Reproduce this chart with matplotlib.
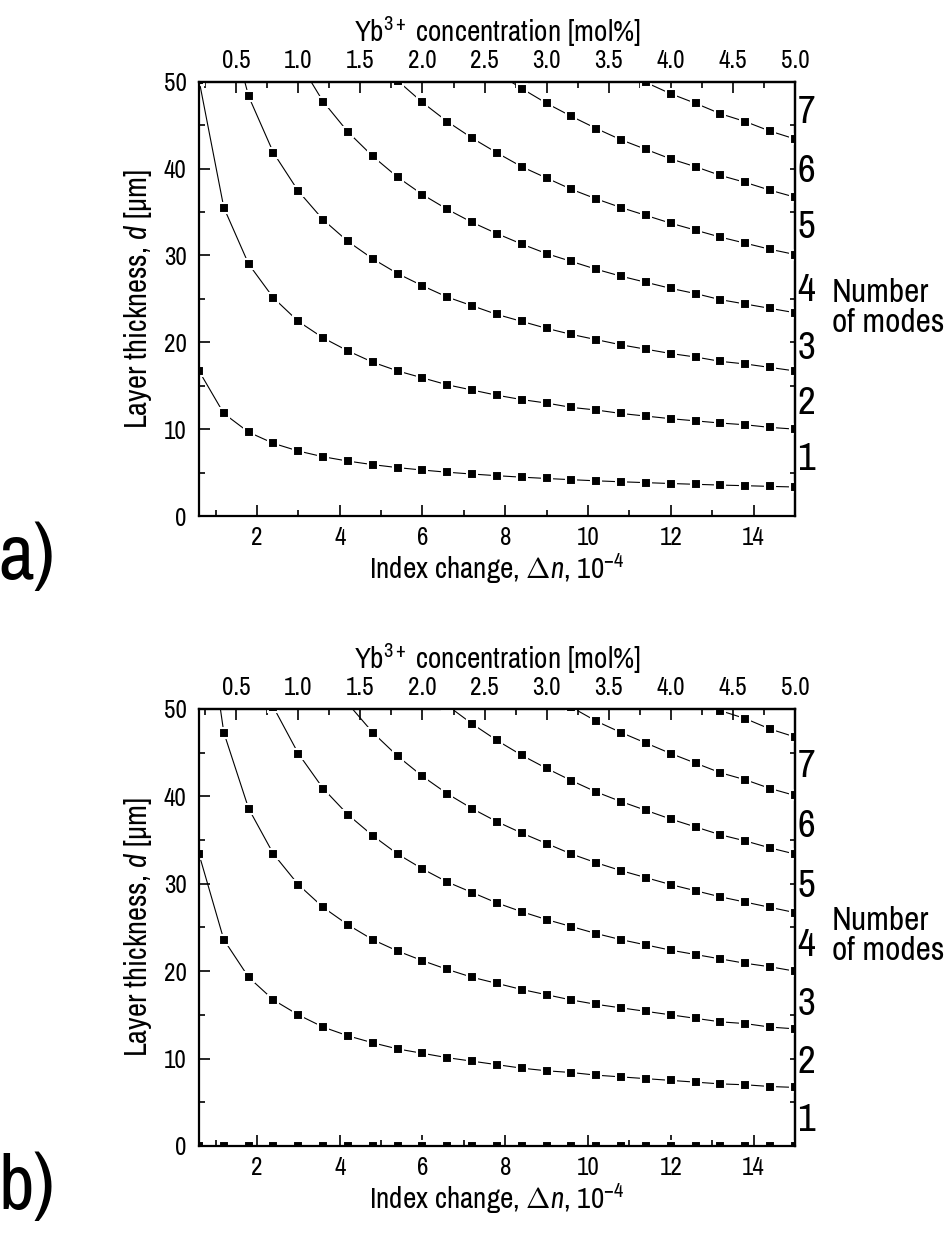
import numpy as np
import matplotlib
matplotlib.use("Agg")
import matplotlib.pyplot as plt
from matplotlib import font_manager
from matplotlib.ticker import MultipleLocator, NullFormatter, FormatStrFormatter
from matplotlib.transforms import blended_transform_factory

names = sorted({f.name for f in font_manager.fontManager.ttflist})
if "Liberation Sans Narrow" in names:
    main_font = "Liberation Sans Narrow"
else:
    narrow = [n for n in names if "Narrow" in n or "Condensed" in n]
    main_font = narrow[0] if narrow else "Liberation Sans"

plt.rcParams["font.family"] = [main_font, "Liberation Sans", "DejaVu Sans"]
plt.rcParams["mathtext.fontset"] = "custom"
plt.rcParams["mathtext.rm"] = main_font
plt.rcParams["mathtext.it"] = main_font + ":italic"
plt.rcParams["mathtext.bf"] = main_font + ":bold"

nan = np.nan

# Index change, units of 1e-4
index_change = [0.6, 1.2, 1.8, 2.4, 3.0, 3.6, 4.2, 4.8, 5.4, 6.0, 6.6, 7.2, 7.8,
                8.4, 9.0, 9.6, 10.2, 10.8, 11.4, 12.0, 12.6, 13.2, 13.8, 14.4, 15.0]

# (a) layer thickness at mode cutoff, um
a_cut1 = [16.7, 11.8, 9.65, 8.36, 7.48, 6.82, 6.32, 5.91, 5.57, 5.29, 5.04, 4.83, 4.64,
          4.47, 4.32, 4.18, 4.05, 3.94, 3.84, 3.74, 3.65, 3.56, 3.49, 3.41, 3.34]
a_cut2 = [50.2, 35.5, 29.0, 25.1, 22.4, 20.5, 19.0, 17.7, 16.7, 15.9, 15.1, 14.5, 13.9,
          13.4, 13.0, 12.5, 12.2, 11.8, 11.5, 11.2, 10.95, 10.7, 10.5, 10.2, 10.0]
a_cut3 = [nan, 59.1, 48.3, 41.8, 37.4, 34.1, 31.6, 29.6, 27.9, 26.5, 25.2, 24.2, 23.2,
          22.4, 21.6, 20.9, 20.3, 19.7, 19.2, 18.7, 18.3, 17.8, 17.5, 17.1, 16.7]
a_cut4 = [nan, nan, nan, nan, 52.4, 47.7, 44.2, 41.4, 39.0, 37.0, 35.3, 33.8, 32.5,
          31.3, 30.2, 29.3, 28.4, 27.6, 26.9, 26.2, 25.6, 24.9, 24.4, 23.9, 23.4]
a_cut5 = [nan, nan, nan, nan, nan, nan, nan, 53.2, 50.1, 47.6, 45.4, 43.5, 41.8,
          40.2, 38.9, 37.6, 36.5, 35.5, 34.6, 33.7, 32.9, 32.1, 31.4, 30.7, 30.1]
a_cut6 = [nan, nan, nan, nan, nan, nan, nan, nan, nan, nan, nan, nan, 51.0,
          49.2, 47.5, 46.0, 44.6, 43.3, 42.2, 41.1, 40.2, 39.2, 38.4, 37.5, 36.7]
a_cut7 = [nan, nan, nan, nan, nan, nan, nan, nan, nan, nan, nan, nan, nan,
          nan, nan, nan, nan, 51.2, 49.9, 48.6, 47.5, 46.3, 45.4, 44.3, 43.4]

# (b) layer thickness at mode cutoff, um
b_cut0 = [0.0] * 25
b_cut1 = [33.4, 23.6, 19.3, 16.7, 15.0, 13.6, 12.6, 11.8, 11.1, 10.6, 10.1, 9.7, 9.3,
          8.9, 8.6, 8.4, 8.1, 7.9, 7.7, 7.5, 7.3, 7.1, 7.0, 6.8, 6.7]
b_cut2 = [66.9, 47.3, 38.6, 33.4, 29.9, 27.3, 25.3, 23.6, 22.3, 21.2, 20.2, 19.3, 18.6,
          17.9, 17.3, 16.7, 16.2, 15.8, 15.4, 15.0, 14.6, 14.2, 14.0, 13.6, 13.4]
b_cut3 = [nan, nan, 57.9, 50.2, 44.9, 40.9, 37.9, 35.5, 33.4, 31.7, 30.2, 29.0, 27.8,
          26.8, 25.9, 25.1, 24.3, 23.6, 23.0, 22.4, 21.9, 21.4, 20.9, 20.5, 20.0]
b_cut4 = [nan, nan, nan, nan, nan, 54.6, 50.6, 47.3, 44.6, 42.3, 40.3, 38.6, 37.1,
          35.8, 34.6, 33.4, 32.4, 31.5, 30.7, 29.9, 29.2, 28.5, 27.9, 27.3, 26.7]
b_cut5 = [nan, nan, nan, nan, nan, nan, nan, nan, nan, 52.9, 50.4, 48.3, 46.4,
          44.7, 43.2, 41.8, 40.5, 39.4, 38.4, 37.4, 36.5, 35.6, 34.9, 34.1, 33.4]
b_cut6 = [nan, nan, nan, nan, nan, nan, nan, nan, nan, nan, nan, nan, nan,
          nan, 51.8, 50.2, 48.6, 47.3, 46.1, 44.9, 43.8, 42.7, 41.9, 40.9, 40.1]
b_cut7 = [nan, nan, nan, nan, nan, nan, nan, nan, nan, nan, nan, nan, nan,
          nan, nan, nan, nan, nan, nan, nan, 51.1, 49.8, 48.9, 47.7, 46.8]

mode_numbers = ["1", "2", "3", "4", "5", "6", "7"]
a_mode_label_y = [6.5, 13.0, 19.3, 25.9, 33.2, 39.6, 46.4]
b_mode_label_y = [2.9, 9.6, 16.2, 22.9, 29.7, 36.5, 43.4]

PX = 72 / 100.0  # points per pixel at 100 dpi

fig = plt.figure(figsize=(9.48, 12.33), dpi=100)
ax_a = fig.add_axes([0.2099, 0.5815, 0.6287, 0.3523])
ax_b = fig.add_axes([0.2099, 0.0706, 0.6287, 0.3544])


def style_panel(ax, curves, label_y, tag):
    for y in curves:
        ax.plot(index_change, y, color="black", lw=0.8, marker="s",
                ms=7.8, mfc="black", mec="white", mew=1.5, zorder=2)
    ax.set_xlim(0.6, 15.0)
    ax.set_ylim(0, 50)
    for s in ax.spines.values():
        s.set_linewidth(1.6)
        s.set_zorder(3)

    ax.xaxis.set_major_locator(MultipleLocator(2))
    ax.xaxis.set_minor_locator(MultipleLocator(1))
    ax.yaxis.set_major_locator(MultipleLocator(10))
    ax.yaxis.set_minor_locator(MultipleLocator(5))
    ax.tick_params(which="both", direction="in", width=1.2, labelsize=18,
                   top=False, right=False)
    ax.tick_params(which="major", length=8 * PX * 1.4)
    ax.tick_params(which="minor", length=4 * PX * 1.4)
    ax.tick_params(axis="x", which="major", pad=7)
    ax.tick_params(axis="y", which="major", pad=9)

    ax.set_xlabel(r"Index change, $\Delta n$, 10$^{-4}$", fontsize=21, labelpad=2)
    ax.set_ylabel(r"Layer thickness, $d$ [µm]", fontsize=22, labelpad=7)

    # Yb concentration scale on top
    top = ax.secondary_xaxis("top", functions=(lambda x: x / 3.0, lambda c: c * 3.0))
    top.xaxis.set_major_locator(MultipleLocator(0.5))
    top.xaxis.set_minor_locator(MultipleLocator(0.25))
    top.xaxis.set_major_formatter(FormatStrFormatter("%.1f"))
    top.tick_params(which="both", direction="in", width=1.2, labelsize=18, pad=7)
    top.tick_params(which="major", length=8 * PX * 1.4)
    top.tick_params(which="minor", length=4 * PX * 1.4)
    top.spines["top"].set_linewidth(1.6)
    top.set_xlabel(r"Yb$^{3+}$ concentration [mol%]", fontsize=21, labelpad=5)

    # plain tick marks on the right side
    right = ax.secondary_yaxis("right")
    right.yaxis.set_major_locator(MultipleLocator(5))
    right.yaxis.set_major_formatter(NullFormatter())
    right.tick_params(direction="in", length=5 * PX, width=1.2)
    right.spines["right"].set_linewidth(1.6)

    tr = blended_transform_factory(ax.transAxes, ax.transData)
    for txt, yy in zip(mode_numbers, label_y):
        ax.text(1.004, yy, txt, transform=tr, fontsize=28, ha="left", va="center")
    ax.text(1.062, 24.0, "Number\nof modes", transform=tr, fontsize=24,
            ha="left", va="center", linespacing=1.0)

    ax.text(-0.336, -0.015, tag, transform=ax.transAxes, fontsize=56,
            ha="left", va="top")


style_panel(ax_a, [a_cut1, a_cut2, a_cut3, a_cut4, a_cut5, a_cut6, a_cut7],
            a_mode_label_y, "a)")
style_panel(ax_b, [b_cut0, b_cut1, b_cut2, b_cut3, b_cut4, b_cut5, b_cut6, b_cut7],
            b_mode_label_y, "b)")

fig.savefig("out.png", dpi=100)
